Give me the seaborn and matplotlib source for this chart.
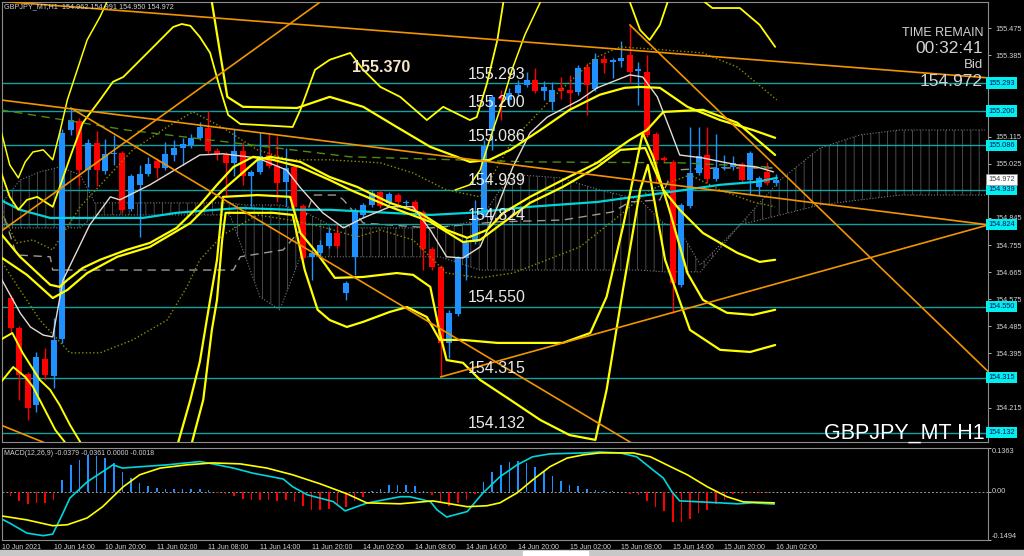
import matplotlib
matplotlib.use("Agg")
import matplotlib.pyplot as plt
import seaborn as sns
from matplotlib.patches import Rectangle

# ---------------- candles (H1 bars, index 1 = 10 Jun 09:00 ... 90 = 16 Jun 02:00)
bars = list(range(1, 91))
opens = [154.579, 154.480, 154.327, 154.224, 154.377, 154.320, 154.443, 155.137, 155.167, 155.004,
         155.094, 155.001, 155.058, 155.061, 154.875, 154.955, 154.991, 155.034, 155.011, 155.054,
         155.077, 155.087, 155.111, 155.144, 155.068, 155.058, 155.028, 155.068, 154.984, 154.998,
         155.054, 155.018, 154.965, 155.014, 154.885, 154.716, 154.729, 154.752, 154.795, 154.596,
         154.716, 154.855, 154.888, 154.931, 154.895, 154.921, 154.895, 154.898, 154.865, 154.742,
         154.682, 154.430, 154.526, 154.712, 154.765, 154.855, 155.134, 155.247, 155.237, 155.260,
         155.287, 155.303, 155.267, 155.230, 155.277, 155.270, 155.263, 155.347, 155.273, 155.373,
         155.363, 155.366, 155.386, 155.333, 155.330, 155.124, 155.044, 155.031, 154.623, 154.885,
         154.994, 155.054, 154.975, 155.011, 155.014, 155.024, 154.971, 154.948, 154.998, 154.962]
highs = [154.589, 154.486, 154.334, 154.400, 154.413, 154.513, 155.141, 155.210, 155.177, 155.107,
         155.134, 155.107, 155.121, 155.068, 154.991, 155.021, 155.048, 155.044, 155.097, 155.104,
         155.111, 155.124, 155.164, 155.200, 155.077, 155.064, 155.141, 155.097, 155.004, 155.131,
         155.127, 155.117, 155.077, 155.021, 154.892, 154.739, 154.772, 154.815, 154.822, 154.636,
         154.878, 154.895, 154.938, 154.938, 154.931, 154.928, 154.905, 154.905, 154.872, 154.749,
         154.689, 154.540, 154.719, 154.779, 154.905, 155.104, 155.254, 155.270, 155.277, 155.303,
         155.330, 155.343, 155.300, 155.297, 155.313, 155.320, 155.353, 155.360, 155.393, 155.386,
         155.376, 155.433, 155.486, 155.363, 155.386, 155.131, 155.051, 155.038, 154.895, 155.147,
         155.147, 155.147, 155.124, 155.054, 155.051, 155.031, 155.068, 154.984, 155.031, 154.991]
lows = [154.467, 154.241, 154.174, 154.201, 154.307, 154.280, 154.430, 155.121, 154.955, 154.948,
        154.951, 154.991, 155.021, 154.862, 154.868, 154.782, 154.984, 154.978, 155.004, 155.034,
        155.021, 155.077, 155.104, 155.061, 155.038, 154.915, 154.984, 154.955, 154.882, 154.991,
        155.011, 154.898, 154.885, 154.875, 154.689, 154.639, 154.719, 154.745, 154.745, 154.573,
        154.656, 154.845, 154.882, 154.878, 154.888, 154.892, 154.885, 154.858, 154.672, 154.672,
        154.317, 154.380, 154.520, 154.639, 154.759, 154.848, 155.071, 155.170, 155.220, 155.254,
        155.280, 155.260, 155.237, 155.204, 155.240, 155.204, 155.254, 155.187, 155.267, 155.327,
        155.310, 155.347, 155.293, 155.220, 155.114, 154.965, 155.031, 154.530, 154.616, 154.878,
        154.988, 154.961, 154.968, 155.004, 155.004, 154.965, 154.921, 154.921, 154.955, 154.950]
closes = [154.480, 154.324, 154.214, 154.383, 154.324, 154.440, 155.127, 155.170, 155.004, 155.094,
          155.004, 155.058, 155.061, 154.872, 154.984, 154.991, 155.024, 155.011, 155.058, 155.077,
          155.091, 155.111, 155.147, 155.068, 155.058, 155.028, 155.068, 154.984, 154.998, 155.051,
          155.018, 154.961, 155.011, 154.882, 154.712, 154.729, 154.755, 154.795, 154.752, 154.629,
          154.865, 154.888, 154.928, 154.885, 154.925, 154.898, 154.898, 154.868, 154.742, 154.682,
          154.430, 154.530, 154.712, 154.762, 154.855, 155.084, 155.247, 155.240, 155.260, 155.287,
          155.303, 155.267, 155.280, 155.270, 155.267, 155.260, 155.343, 155.287, 155.373, 155.360,
          155.370, 155.376, 155.330, 155.340, 155.121, 155.038, 155.038, 154.629, 154.888, 154.994,
          155.051, 154.975, 155.011, 155.014, 155.028, 154.971, 155.061, 154.978, 154.961, 154.972]

# ---------------- indicator lines (bar index, price)
wma_x = [-0.2, 2.1, 3.3, 4.8, 5.9, 7.1, 10.2, 12.6, 13.7, 17.2, 23.0, 25.7, 29.7, 33.1, 34.7, 37.3, 39.7,
         42.0, 45.1, 47.8, 49.8, 51.7, 53.6, 55.6, 57.6, 59.4, 61.4, 63.4, 67.2, 69.2, 73.0, 74.5, 76.2,
         77.7, 78.8, 81.5, 85.5, 87.8, 89.7]
wma_y = [154.649, 154.530, 154.483, 154.456, 154.450, 154.639, 154.822, 154.915, 154.905, 154.955, 155.054,
         155.058, 155.044, 155.004, 154.945, 154.862, 154.812, 154.845, 154.882, 154.882, 154.805, 154.716,
         154.712, 154.749, 154.882, 155.014, 155.127, 155.180, 155.237, 155.277, 155.320, 155.313, 155.247,
         155.137, 155.054, 155.044, 155.021, 155.014, 154.998]
cma_x = [-0.2, 2.1, 5.6, 11.4, 16.4, 20.3, 23.0, 27.7, 33.5, 38.1, 49.8, 54.4, 61.4, 69.2, 76.9, 83.5, 87.8, 90.1]
cma_y = [154.905, 154.872, 154.845, 154.845, 154.845, 154.862, 154.868, 154.878, 154.872, 154.872, 154.855,
         154.862, 154.882, 154.898, 154.928, 154.955, 154.965, 154.978]
gma_x = [-0.2, 14.5, 40.5, 61.4, 78.8, 89.3]
gma_y = [155.204, 155.137, 155.048, 155.031, 155.028, 155.014]
kijun_x = [-0.2, 1.7, 5.6, 5.9, 26.9, 27.7, 32.7, 34.7, 36.2, 39.0, 39.7, 42.0, 49.8, 57.6, 65.2, 71.0,
           73.0, 76.5, 78.0, 83.1, 90.1]
kijun_y = [154.888, 154.722, 154.716, 154.672, 154.672, 154.716, 154.739, 154.805, 154.921, 154.921, 154.905,
           154.828, 154.812, 154.832, 154.838, 154.865, 154.898, 154.905, 155.004, 155.011, 155.011]
cloud_x = [-0.2, 2.1, 4.4, 6.7, 9.1, 10.8, 14.9, 23.0, 26.5, 28.3, 30.0, 32.3, 34.7, 38.1, 41.6, 46.3, 50.9,
           55.6, 57.9, 60.2, 64.9, 69.5, 74.2, 76.9, 78.8, 81.2, 85.8, 90.5, 95.1, 99.8, 104.4, 109.1, 114.3]
cloud_top = [154.888, 154.971, 154.998, 155.014, 154.988, 154.895, 154.895, 154.895, 154.895, 154.888, 154.888,
             154.888, 154.872, 154.822, 154.812, 154.812, 154.812, 154.838, 154.938, 154.988, 154.978, 154.938,
             154.905, 154.828, 154.805, 154.689, 154.822, 154.971, 155.077, 155.121, 155.137, 155.137, 155.137]
cloud_bot = [154.812, 154.812, 154.812, 154.812, 154.812, 154.855, 154.855, 154.855, 154.855, 154.716, 154.583,
             154.540, 154.716, 154.716, 154.716, 154.716, 154.716, 154.672, 154.672, 154.672, 154.672, 154.672,
             154.672, 154.666, 154.666, 154.666, 154.822, 154.855, 154.888, 154.905, 154.921, 154.921, 154.921]
olu_x = [-0.2, 1.7, 3.6, 5.9, 9.1, 15.2, 19.2, 22.2, 25.7, 29.7, 33.5, 38.1, 44.0, 47.8, 51.7, 55.6, 59.4,
         64.1, 69.2, 71.9, 76.9, 81.5, 85.5, 90.1]
olu_y = [154.872, 154.762, 154.772, 154.739, 154.882, 155.071, 155.147, 155.197, 155.144, 155.071, 155.038,
         155.038, 155.028, 154.994, 154.938, 154.915, 155.104, 155.247, 155.380, 155.413, 155.403, 155.393,
         155.346, 155.237]
oll_x = [-0.2, 2.1, 4.4, 7.9, 11.4, 15.2, 19.2, 21.5, 23.0, 25.7, 29.7, 33.5, 37.3, 41.3, 44.0, 47.8, 51.7,
         55.6, 59.4, 63.4, 67.2, 71.9, 75.3, 80.0, 83.5, 87.3, 89.9]
oll_y = [154.706, 154.606, 154.506, 154.397, 154.397, 154.440, 154.506, 154.616, 154.706, 154.789, 154.855,
         154.838, 154.815, 154.782, 154.805, 154.772, 154.662, 154.646, 154.662, 154.706, 154.749, 154.855,
         154.938, 154.988, 154.938, 154.898, 154.882]

# yellow band lines
y1_x = [-0.2, 0.9, 1.9, 2.7, 3.6, 4.8, 5.9, 6.7, 7.6, 9.9, 11.4, 12.2]
y1_y = [155.144, 155.021, 154.978, 155.031, 155.064, 155.071, 155.038, 155.127, 155.237, 155.436, 155.513, 155.562]
y2_x = [-0.2, 0.9, 1.9, 2.9, 4.1, 5.9, 7.0, 8.1, 9.4, 11.4, 12.9, 14.1, 16.9, 19.9, 20.9, 21.9, 23.0, 24.2,
        25.3, 26.3, 27.7, 29.7, 33.8, 34.7, 36.4, 38.1, 40.5, 42.0, 44.0, 46.3, 49.4, 51.3, 54.4, 55.2, 56.4,
        57.6, 58.3]
y2_y = [155.004, 154.915, 154.872, 154.905, 154.915, 154.882, 154.971, 155.061, 155.161, 155.237, 155.297,
        155.313, 155.393, 155.479, 155.489, 155.483, 155.446, 155.393, 155.280, 155.187, 155.157, 155.154,
        155.147, 155.204, 155.337, 155.370, 155.393, 155.337, 155.280, 155.247, 155.170, 155.214, 155.170,
        155.180, 155.293, 155.436, 155.562]
y3_x = [24.4, 25.3, 26.2, 28.0, 34.3, 38.1, 42.0, 45.9, 49.8, 52.9, 54.4, 56.7, 59.1, 62.6, 66.0, 69.5, 72.4,
        74.2, 76.5, 79.7, 83.5, 87.3, 89.9]
y3_y = [155.562, 155.403, 155.247, 155.214, 155.210, 155.247, 155.214, 155.147, 155.081, 155.048, 155.031,
        155.038, 155.071, 155.137, 155.204, 155.254, 155.277, 155.280, 155.277, 155.214, 155.170, 155.137, 155.111]
y5_x = [-0.2, 2.9, 5.9, 7.6, 9.9, 13.4, 17.2, 21.9, 25.7, 29.7, 31.2, 34.7, 38.1, 41.3, 45.1, 48.6, 51.7,
        54.1, 56.4, 58.3, 61.4, 65.2, 69.2, 73.0, 75.0, 76.9, 81.5, 85.5, 89.9]
y5_y = [154.716, 154.656, 154.579, 154.606, 154.662, 154.716, 154.749, 154.828, 154.938, 155.038, 155.048,
        155.031, 154.981, 154.948, 154.895, 154.862, 154.805, 154.779, 154.805, 154.862, 154.915, 154.971,
        155.028, 155.104, 155.137, 155.197, 155.204, 155.161, 155.054]
y6_x = [-0.2, 2.1, 5.6, 6.7, 7.6, 9.4, 11.4, 14.5, 17.2, 20.3, 23.0, 25.0, 26.9, 29.2, 31.5, 34.7, 38.1,
        40.5, 45.1, 49.8, 53.6, 55.6, 57.6, 61.4, 65.2, 69.2, 71.9, 74.8, 76.9, 78.8, 81.5, 85.5, 88.1, 89.9]
y6_y = [154.795, 154.716, 154.623, 154.616, 154.639, 154.679, 154.706, 154.739, 154.762, 154.812, 154.888,
        154.955, 155.014, 155.048, 155.038, 155.014, 154.971, 154.938, 154.882, 154.832, 154.765, 154.772,
        154.815, 154.895, 154.948, 155.014, 155.071, 155.077, 154.938, 154.872, 154.795, 154.729, 154.699,
        154.706]
y7_x = [-0.2, 1.2, 2.4, 4.4, 5.6, 6.7, 7.9, 9.1]
y7_y = [154.440, 154.463, 154.397, 154.307, 154.274, 154.224, 154.158, 154.101]
y8_x = [-0.2, 1.3, 2.7, 3.6, 5.0, 6.2, 7.3]
y8_y = [154.297, 154.350, 154.317, 154.284, 154.207, 154.141, 154.101]
y9_x = [20.5, 21.9, 23.0, 24.2, 25.0, 25.7, 29.7, 33.5, 34.7, 36.6, 38.7, 42.0, 45.9, 47.8, 49.8, 50.9, 51.7,
        53.6, 55.6, 59.1, 62.6, 66.0, 69.0, 70.3, 72.2, 74.2, 75.1, 77.1, 80.0, 83.5, 87.0, 89.9]
y9_y = [154.101, 154.241, 154.367, 154.573, 154.706, 154.915, 154.921, 154.915, 154.795, 154.729, 154.646,
        154.649, 154.662, 154.656, 154.616, 154.463, 154.373, 154.364, 154.307, 154.241, 154.174, 154.124,
        154.108, 154.274, 154.606, 154.938, 155.021, 154.706, 154.473, 154.407, 154.400, 154.423]
y10_x = [22.1, 23.4, 24.4, 25.0, 25.6, 26.0, 31.5, 33.8, 35.2, 36.7, 38.1, 40.1, 42.0, 45.1, 47.1, 49.4, 50.9,
         53.6, 57.6, 65.2, 68.4, 70.3, 72.2, 74.5, 75.7, 77.7, 79.7, 81.5, 84.3, 87.3, 89.9]
y10_y = [154.101, 154.241, 154.473, 154.573, 154.772, 154.862, 154.862, 154.855, 154.672, 154.540, 154.506,
         154.483, 154.500, 154.533, 154.549, 154.516, 154.440, 154.440, 154.430, 154.430, 154.463, 154.583,
         154.815, 155.127, 155.048, 154.862, 154.662, 154.573, 154.530, 154.523, 154.540]
yd_x = [73.0, 74.2, 75.3, 76.5, 77.4]
yd_y = [155.562, 155.469, 155.436, 155.486, 155.562]
ye_x = [81.7, 82.6, 85.8, 88.1, 89.9]
ye_y = [155.562, 155.542, 155.542, 155.486, 155.413]
yf_x = [52.7, 54.4, 55.6, 56.7, 57.9, 59.3, 60.8, 62.6]
yf_y = [154.938, 154.955, 155.004, 155.104, 155.204, 155.337, 155.453, 155.562]

# trend lines (start, end)
trend_lines = [
    ([-0.2, 37.0], [154.799, 155.562]),
    ([0.9, 114.7], [155.562, 155.310]),
    ([-0.2, 114.7], [155.237, 154.822]),
    ([8.0, 73.6], [155.210, 154.091]),
    ([51.0, 114.7], [154.317, 154.822]),
    ([73.0, 114.7], [155.486, 154.334]),
    ([-0.2, 5.6], [154.158, 154.091]),
]

levels = [155.293, 155.200, 155.086, 154.939, 154.824, 154.550, 154.315, 154.132]
bid = 154.972
price_ticks = [154.215, 154.305, 154.395, 154.485, 154.575, 154.665, 154.755, 154.845, 154.935,
               155.025, 155.115, 155.205, 155.295, 155.385, 155.475]
# scale labels hidden behind the level boxes
hidden_ticks = [154.305, 154.935, 155.205, 155.295]

# ---------------- MACD(12,26,9)
hist = [-0.013, -0.027, -0.039, -0.034, -0.034, -0.024, 0.038, 0.083, 0.100, 0.116,
        0.113, 0.105, 0.090, 0.062, 0.043, 0.028, 0.018, 0.012, 0.009, 0.009,
        0.009, 0.009, 0.009, 0.005, -0.003, -0.008, -0.013, -0.022, -0.024, -0.024,
        -0.024, -0.029, -0.024, -0.031, -0.044, -0.055, -0.057, -0.052, -0.044, -0.048,
        -0.029, -0.016, 0.004, 0.010, 0.020, 0.021, 0.021, 0.018, 0.004, -0.010,
        -0.034, -0.044, -0.034, -0.024, -0.005, 0.030, 0.062, 0.083, 0.093, 0.095,
        0.090, 0.078, 0.064, 0.049, 0.033, 0.020, 0.018, 0.009, 0.007, 0.004,
        0.002, 0.001, -0.005, -0.010, -0.029, -0.048, -0.060, -0.093, -0.094, -0.084,
        -0.065, -0.055, -0.037, -0.026, -0.008, -0.008, -0.002, -0.002, -0.003, -0.0018]
macd_x = [-0.2, 0.9, 2.9, 4.8, 5.9, 7.0, 7.9, 9.9, 12.9, 14.0, 16.0, 19.2, 23.0, 24.5, 26.9, 29.2, 32.7,
          33.8, 35.5, 38.5, 39.9, 42.4, 46.3, 47.4, 49.8, 50.6, 51.7, 54.1, 55.9, 57.9, 59.9, 61.7, 63.7,
          67.6, 69.5, 71.9, 73.8, 75.7, 76.9, 77.9, 78.8, 81.2, 83.5, 85.5, 87.3, 89.8]
macd_v = [-0.082, -0.097, -0.128, -0.136, -0.131, -0.071, -0.019, 0.031, 0.084, 0.074, 0.078, 0.084, 0.094,
          0.087, 0.074, 0.058, 0.040, 0.016, -0.009, -0.030, -0.059, -0.035, -0.015, -0.015, -0.030, -0.056,
          -0.078, -0.061, -0.004, 0.047, 0.084, 0.109, 0.118, 0.121, 0.124, 0.121, 0.109, 0.068, 0.043, 0.0,
          -0.028, -0.031, -0.034, -0.037, -0.034, -0.038]
sig_x = [-0.2, 2.9, 5.9, 7.6, 9.9, 11.7, 14.1, 16.0, 18.4, 21.5, 24.5, 27.7, 30.8, 33.8, 37.0, 40.1, 42.4,
         46.3, 50.1, 54.1, 56.4, 57.9, 59.9, 61.7, 63.7, 65.7, 67.6, 69.5, 73.4, 75.4, 77.3, 79.7, 82.0,
         84.3, 86.2, 89.8]
sig_v = [-0.074, -0.087, -0.105, -0.102, -0.081, -0.046, 0.016, 0.053, 0.074, 0.084, 0.090, 0.087, 0.074,
         0.053, 0.025, -0.006, -0.034, -0.037, -0.028, -0.046, -0.043, -0.034, -0.003, 0.037, 0.078, 0.105,
         0.115, 0.121, 0.121, 0.109, 0.084, 0.053, 0.016, -0.015, -0.031, -0.034]

time_ticks = [0, 6, 12, 18, 24, 30, 36, 42, 48, 54, 60, 66, 72, 78, 84, 90]
time_labels = ["10 Jun 2021", "10 Jun 14:00", "10 Jun 20:00", "11 Jun 02:00", "11 Jun 08:00",
               "11 Jun 14:00", "11 Jun 20:00", "14 Jun 02:00", "14 Jun 08:00", "14 Jun 14:00",
               "14 Jun 20:00", "15 Jun 02:00", "15 Jun 08:00", "15 Jun 14:00", "15 Jun 20:00",
               "16 Jun 02:00"]

# ---------------- style
sns.set_style("dark", {"axes.facecolor": "black", "figure.facecolor": "black",
                       "axes.edgecolor": "#8c8c8c"})
plt.rcParams["font.family"] = ["Liberation Sans", "DejaVu Sans"]
plt.rcParams["hatch.linewidth"] = 0.6

BULL, BEAR = "#1e90ff", "#ff0000"
YEL = "#ffff00"
ORANGE = "#f29400"
LEVEL = "#0fa0a0"
TXT = "#d2d2d2"


def line(ax, xs, ys, color, lw, ls="-", z=4):
    sns.lineplot(x=xs, y=ys, ax=ax, color=color, linewidth=lw, linestyle=ls,
                 estimator=None, sort=False, legend=False, zorder=z)


fig = plt.figure(figsize=(10.24, 5.56), dpi=100)
ax = fig.add_axes([2 / 1024, 1 - 442 / 556, 986 / 1024, 440 / 556])
ax2 = fig.add_axes([2 / 1024, 1 - 540 / 556, 986 / 1024, 92 / 556])

# ichimoku cloud
ax.fill_between(cloud_x, cloud_top, cloud_bot, facecolor="none", edgecolor="#555555",
                hatch="||", linewidth=0, zorder=1)
line(ax, cloud_x, cloud_top, "#7a7a7a", 0.8, ":", 1)
line(ax, cloud_x, cloud_bot, "#7a7a7a", 0.8, ":", 1)
line(ax, kijun_x, kijun_y, "#a09a90", 1.0, (0, (6, 4)), 2)

# horizontal levels
for lvl in levels:
    ax.axhline(lvl, color=LEVEL, lw=1.0, zorder=2)

# candles
up = [c >= o for o, c in zip(opens, closes)]
cols = [BULL if u else BEAR for u in up]
body_lo = [min(o, c) for o, c in zip(opens, closes)]
body_h = [max(abs(c - o), 0.003) for o, c in zip(opens, closes)]
ax.vlines(bars, lows, highs, colors=cols, lw=1.0, zorder=3)
ax.bar(bars, body_h, bottom=body_lo, width=0.7, color=cols, linewidth=0, zorder=3)

# moving averages / bands
line(ax, gma_x, gma_y, "#4f8a10", 1.0, (0, (6, 4)), 4)
line(ax, olu_x, olu_y, "#8c8c00", 1.0, ":", 4)
line(ax, oll_x, oll_y, "#8c8c00", 1.0, ":", 4)
line(ax, cma_x, cma_y, "#00d5dc", 1.6, "-", 4)
line(ax, wma_x, wma_y, "#e6dcd2", 1.0, "-", 4)
for xs, ys, lw in [(y1_x, y1_y, 1.1), (y2_x, y2_y, 1.3), (y3_x, y3_y, 1.6), (y5_x, y5_y, 1.6),
                   (y6_x, y6_y, 1.6), (y7_x, y7_y, 1.4), (y8_x, y8_y, 1.4), (y9_x, y9_y, 1.6),
                   (y10_x, y10_y, 1.6), (yd_x, yd_y, 1.3), (ye_x, ye_y, 1.3), (yf_x, yf_y, 1.1)]:
    line(ax, xs, ys, YEL, lw, "-", 5)

for xs, ys in trend_lines:
    line(ax, xs, ys, ORANGE, 1.2, "-", 6)

# level captions on the chart
for lvl in levels:
    ax.text(54.2, lvl + 0.005, f"{lvl:.3f}", color="#e8e8e8", fontsize=11.5,
            va="bottom", ha="left", zorder=7)
ax.text(40.7, 155.343, "155.370", color="#f5e6c8", fontsize=11.5, fontweight="bold",
        va="center", ha="left", zorder=7)

ax.set_xlim(0, 114.65)
ax.set_ylim(154.101, 155.562)
ax.set_xticks([])
ax.yaxis.tick_right()
ax.set_yticks(price_ticks)
ax.set_yticklabels(["" if t in hidden_ticks else f"{t:.3f}" for t in price_ticks])
ax.tick_params(axis="y", colors=TXT, labelsize=5.3, length=2, width=0.6, pad=3)
ax.set_ylabel("")
ax.set_xlabel("")

# price boxes on the right scale
for lvl in levels:
    ax.text(1.0, lvl, f"{lvl:.3f}", transform=ax.get_yaxis_transform(), ha="left", va="center",
            fontsize=5.3, color="#10105a", clip_on=False, zorder=10,
            bbox=dict(boxstyle="square,pad=0.3", fc="#00f0f0", ec="none"))
ax.text(1.0, bid, f"{bid:.3f}", transform=ax.get_yaxis_transform(), ha="left", va="center",
        fontsize=5.3, color="#404040", clip_on=False, zorder=10,
        bbox=dict(boxstyle="square,pad=0.3", fc="white", ec="#909090", lw=0.5))

# texts
ax.text(0.002, 0.989, "GBPJPY_MT,H1  154.962 154.991 154.950 154.972", transform=ax.transAxes,
        color=TXT, fontsize=5.2, va="center", ha="left", zorder=8)
ax.text(0.995, 0.930, "TIME REMAIN", transform=ax.transAxes, color=TXT, fontsize=9,
        ha="right", va="center", zorder=8)
ax.text(0.995, 0.894, "00:32:41", transform=ax.transAxes, color=TXT, fontsize=12.5,
        ha="right", va="center", zorder=8)
ax.text(0.995, 0.857, "Bid", transform=ax.transAxes, color=TXT, fontsize=9.5,
        ha="right", va="center", zorder=8)
ax.text(0.995, 0.820, "154.972", transform=ax.transAxes, color=TXT, fontsize=12.5,
        ha="right", va="center", zorder=8)
ax.text(0.997, 0.021, "GBPJPY_MT H1", transform=ax.transAxes, color="white", fontsize=15.5,
        ha="right", va="center", zorder=8)

for s in ax.spines.values():
    s.set_color("#8c8c8c")
    s.set_linewidth(0.8)

# ---------------- MACD pane
hcols = [BULL if v >= 0 else BEAR for v in hist]
ax2.bar(bars, hist, width=0.2, color=hcols, linewidth=0, zorder=2)
ax2.axhline(0, color="#9a9a9a", lw=0.7, ls=(0, (2, 2)), zorder=1)
line(ax2, macd_x, macd_v, "#00d5dc", 1.2, "-", 3)
line(ax2, sig_x, sig_v, YEL, 1.2, "-", 3)
ax2.set_xlim(0, 114.65)
ax2.set_ylim(-0.1494, 0.1363)
ax2.yaxis.tick_right()
ax2.set_yticks([0.1363, 0.0, -0.1494])
ax2.set_yticklabels(["", "", ""])
ax2.tick_params(axis="y", colors=TXT, length=2, width=0.6)
ax2.text(1.004, 0.1363, "0.1363", transform=ax2.get_yaxis_transform(), color=TXT,
         fontsize=5.3, va="top", ha="left", clip_on=False)
ax2.text(1.004, 0.0, "0.00", transform=ax2.get_yaxis_transform(), color=TXT,
         fontsize=5.3, va="center", ha="left", clip_on=False)
ax2.text(1.004, -0.1494, "-0.1494", transform=ax2.get_yaxis_transform(), color=TXT,
         fontsize=5.3, va="bottom", ha="left", clip_on=False)
ax2.set_xticks(time_ticks)
ax2.set_xticklabels(time_labels)
for lbl in ax2.get_xticklabels():
    lbl.set_horizontalalignment("left")
ax2.tick_params(axis="x", colors=TXT, labelsize=5.0, length=2, width=0.6, pad=1)
ax2.set_xlabel("")
ax2.set_ylabel("")
ax2.text(0.002, 0.935, "MACD(12,26,9) -0.0379 -0.0361 0.0000 -0.0018", transform=ax2.transAxes,
         color=TXT, fontsize=5.0, va="center", ha="left")
for s in ax2.spines.values():
    s.set_color("#8c8c8c")
    s.set_linewidth(0.8)

# bottom tab strip
fig.patches.append(Rectangle((0, 0), 1, 6 / 556, transform=fig.transFigure,
                             color="#c8c8c8", zorder=0))
fig.patches.append(Rectangle((523 / 1024, 0), 65 / 1024, 5 / 556, transform=fig.transFigure,
                             color="white", zorder=1))

fig.savefig("out.png", dpi=100, facecolor="black")
